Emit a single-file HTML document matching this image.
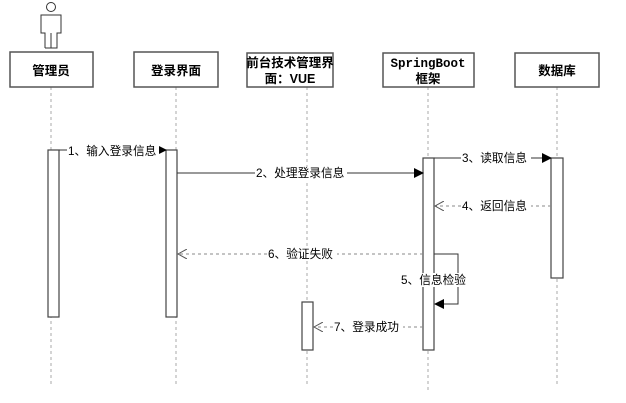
<!DOCTYPE html>
<html><head><meta charset="utf-8"><style>
html,body{margin:0;padding:0;background:#fff;}
svg{display:block;}
text{font-family:"Liberation Sans","Noto Sans CJK SC",sans-serif;font-size:11.7px;fill:#000;}
.b{font-weight:bold;font-size:12.5px;}
</style></head><body>
<svg width="626" height="403" viewBox="0 0 626 403" xmlns="http://www.w3.org/2000/svg">
<defs>
<marker id="f" markerWidth="10" markerHeight="10" refX="9" refY="5" orient="auto" markerUnits="userSpaceOnUse"><path d="M0,0 L10,5 L0,10 z" fill="#000"/></marker>
<marker id="o" markerWidth="10" markerHeight="10" refX="9" refY="5" orient="auto" markerUnits="userSpaceOnUse"><path d="M0,0 L9,5 L0,10" fill="none" stroke="#555" stroke-width="1"/></marker>
</defs>
<g fill="none" stroke="#333" stroke-width="1">
<circle cx="51" cy="7" r="4.5"/>
<path d="M45,48 V33 H41 V15 H61 V33 H57 V48 H45 M51,33 V48"/>
</g>
<g stroke="#aaa" stroke-dasharray="3,3" stroke-width="1">
<line x1="51" y1="87" x2="51" y2="385"/>
<line x1="176" y1="87" x2="176" y2="385"/>
<line x1="307" y1="87" x2="307" y2="385"/>
<line x1="428" y1="87" x2="428" y2="390"/>
<line x1="557" y1="87" x2="557" y2="385"/>
</g>
<g fill="#fff" stroke="#555" stroke-width="1.5">
<rect x="10" y="52" width="83" height="35"/>
<rect x="134" y="52" width="84" height="35"/>
<rect x="247" y="53" width="86" height="34"/>
<rect x="383" y="53" width="91" height="34"/>
<rect x="515" y="53" width="84" height="34"/>
</g>
<text class="b" x="51" y="75" text-anchor="middle">管理员</text>
<text class="b" x="176" y="75" text-anchor="middle">登录界面</text>
<text class="b" x="290" y="67" text-anchor="middle">前台技术管理界</text>
<text class="b" x="290" y="83" text-anchor="middle">面：VUE</text>
<text class="b" x="428" y="67" text-anchor="middle" style="font-family:'Liberation Mono','Noto Sans CJK SC',monospace">SpringBoot</text>
<text class="b" x="428" y="83" text-anchor="middle">框架</text>
<text class="b" x="557" y="75" text-anchor="middle">数据库</text>
<g fill="#fff" stroke="#444" stroke-width="1.2">
<rect x="48" y="150" width="11" height="167"/>
<rect x="166" y="150" width="11" height="167"/>
<rect x="302" y="302" width="11" height="48"/>
<rect x="423" y="158" width="11" height="192"/>
<rect x="551" y="158" width="12" height="120"/>
</g>
<g stroke="#333" stroke-width="1" fill="none">
<line x1="59" y1="150" x2="166" y2="150" marker-end="url(#f)"/>
<line x1="177" y1="173" x2="423" y2="173" marker-end="url(#f)"/>
<line x1="434" y1="158" x2="551" y2="158" marker-end="url(#f)"/>
<path d="M434,254 H458 V304 H435" marker-end="url(#f)"/>
</g>
<g stroke="#888" stroke-width="1" stroke-dasharray="3,3" fill="none">
<line x1="551" y1="206" x2="435" y2="206" marker-end="url(#o)"/>
<line x1="423" y1="254" x2="178" y2="254" marker-end="url(#o)"/>
<line x1="423" y1="327" x2="314" y2="327" marker-end="url(#o)"/>
</g>
<g>
<rect x="67" y="144" width="92" height="13" fill="#fff"/>
<text x="68" y="155">1、输入登录信息</text>
<rect x="255" y="167" width="92" height="13" fill="#fff"/>
<text x="256" y="177">2、处理登录信息</text>
<rect x="461" y="152" width="70" height="13" fill="#fff"/>
<text x="462" y="162">3、读取信息</text>
<rect x="461" y="200" width="70" height="13" fill="#fff"/>
<text x="462" y="210">4、返回信息</text>
<rect x="267" y="248" width="70" height="13" fill="#fff"/>
<text x="268" y="258">6、验证失败</text>
<rect x="400" y="273" width="70" height="14" fill="#fff"/>
<text x="401" y="284">5、信息检验</text>
<rect x="333" y="321" width="70" height="13" fill="#fff"/>
<text x="334" y="331">7、登录成功</text>
</g>
</svg>
</body></html>
